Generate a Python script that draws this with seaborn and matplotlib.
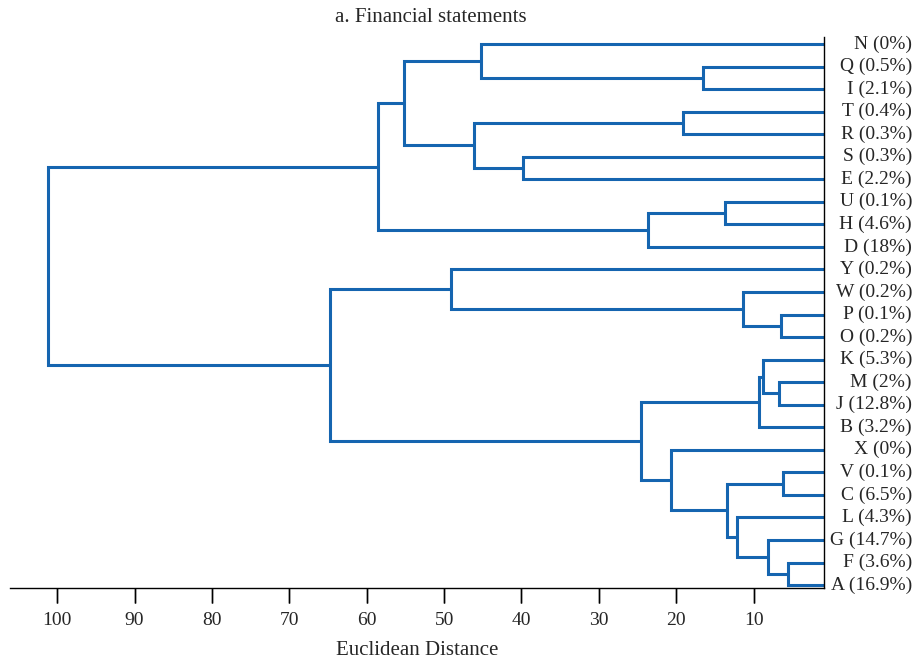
"""
Dendrogram of financial-statement items (Euclidean distance), drawn by hand
from a small merge table so no scipy is needed.
"""

import matplotlib
matplotlib.use("Agg")
import matplotlib.pyplot as plt
import matplotlib.transforms as mtransforms
import seaborn as sns

sns.set_style("ticks")
plt.rcParams["font.family"] = ["Liberation Serif", "DejaVu Serif"]

LINE_COLOR = "#1565b0"

# leaves, top to bottom, with their share
LEAVES = ["N", "Q", "I", "T", "R", "S", "E", "U", "H", "D", "Y", "W", "P",
          "O", "K", "M", "J", "B", "X", "V", "C", "L", "G", "F", "A"]
SHARES = ["0%", "0.5%", "2.1%", "0.4%", "0.3%", "0.3%", "2.2%", "0.1%",
          "4.6%", "18%", "0.2%", "0.2%", "0.1%", "0.2%", "5.3%", "2%",
          "12.8%", "3.2%", "0%", "0.1%", "6.5%", "4.3%", "14.7%", "3.6%",
          "16.9%"]

# merges: cluster name = left + right, joined at a Euclidean distance
MERGE_LEFT = ["Q", "N", "T", "S", "TR", "NQI", "U", "UH", "NQITRSE",
              "P", "W", "Y", "M", "K", "KMJ", "V", "F", "G", "L", "VC",
              "X", "KMJB", "YWPO", "NQITRSEUHD"]
MERGE_RIGHT = ["I", "QI", "R", "E", "SE", "TRSE", "H", "D", "UHD",
               "O", "PO", "WPO", "J", "MJ", "B", "C", "A", "FA", "GFA", "LGFA",
               "VCLGFA", "XVCLGFA", "KMJBXVCLGFA", "YWPOKMJBXVCLGFA"]
MERGE_DIST = [16.6, 45.2, 19.1, 39.8, 46.1, 55.2, 13.7, 23.7, 58.6,
              6.5, 11.4, 49.1, 6.7, 8.8, 9.35, 6.2, 5.5, 8.1, 12.1, 13.4,
              20.7, 24.5, 64.7, 101.2]

XTICKS = [100, 90, 80, 70, 60, 50, 40, 30, 20, 10]


def draw_dendrogram(ax):
    pos = {leaf: (float(i), 0.0) for i, leaf in enumerate(LEAVES)}
    for left, right, d in zip(MERGE_LEFT, MERGE_RIGHT, MERGE_DIST):
        y1, h1 = pos[left]
        y2, h2 = pos[right]
        ax.plot([h1, d, d, h2], [y1, y1, y2, y2], color=LINE_COLOR,
                lw=2.2, solid_joinstyle="miter", solid_capstyle="butt")
        pos[left + right] = ((y1 + y2) / 2, d)


def main():
    fig = plt.figure(figsize=(9.16, 6.6), dpi=100)
    ax = fig.add_axes([10 / 916, 72 / 660, 814 / 916, 551 / 660])

    draw_dendrogram(ax)

    ax.set_xlim(106.1, 0.9)
    ax.set_ylim(24.13, -0.31)
    ax.set_xticks(XTICKS)
    ax.set_xticklabels([str(t) for t in XTICKS], fontsize=14)
    ax.set_yticks([])
    ax.tick_params(axis="x", bottom=True, direction="out", length=11,
                   width=1, color="black", pad=6)
    # tick marks drawn explicitly (the axis ones did not render here)
    ax.vlines(XTICKS, 0, -15 / 551, transform=ax.get_xaxis_transform(),
              colors="black", lw=1.0, clip_on=False)

    for side in ["top", "left"]:
        ax.spines[side].set_visible(False)
    for side in ["bottom", "right"]:
        ax.spines[side].set_visible(True)
        ax.spines[side].set_color("black")
        ax.spines[side].set_linewidth(1.0)

    trans = mtransforms.blended_transform_factory(fig.transFigure, ax.transData)
    for i, (leaf, share) in enumerate(zip(LEAVES, SHARES)):
        ax.text(912 / 916, i, f"{leaf} ({share})", transform=trans,
                ha="right", va="center", fontsize=14, clip_on=False)

    ax.set_xlabel("Euclidean Distance", fontsize=15, labelpad=9)
    fig.text(431 / 916, 1 - 18 / 660, "a. Financial statements",
             ha="center", va="center", fontsize=15)

    fig.savefig("out.png", dpi=100)
    plt.close(fig)


if __name__ == "__main__":
    main()
